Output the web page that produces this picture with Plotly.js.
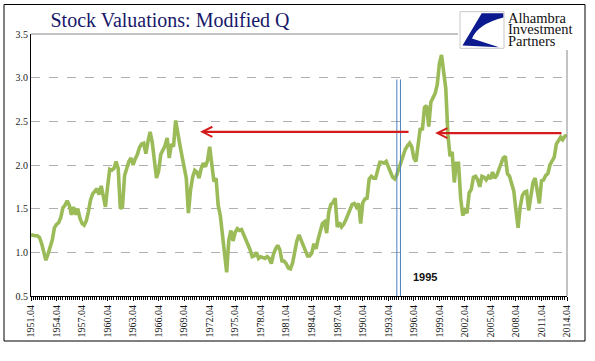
<!DOCTYPE html>
<html>
<head>
<meta charset="utf-8">
<script src="https://cdn.plot.ly/plotly-3.0.1.min.js"></script>
<style>html,body{margin:0;padding:0;background:#fff;}#chart{width:595px;height:361px;}</style>
</head>
<body>
<div id="chart"></div>
<script>
// Modified Q, quarterly, 1951.04 .. 2014.04
const modifiedQ = [
  1.20,1.19,1.19,1.19,1.17,1.10,1.01,0.91,0.98,1.06,1.14,1.28,
  1.32,1.34,1.40,1.51,1.54,1.59,1.54,1.43,1.52,1.43,1.50,1.39,
  1.33,1.31,1.36,1.47,1.60,1.67,1.70,1.73,1.66,1.76,1.64,1.52,
  1.75,1.95,1.94,1.96,2.04,1.96,1.50,1.52,1.88,1.96,2.04,2.08,
  2.00,2.07,2.12,2.20,2.24,2.25,2.13,2.27,2.38,2.26,2.05,1.85,
  1.93,2.12,2.17,2.22,2.31,2.08,2.24,2.21,2.51,2.35,2.23,2.10,
  1.95,1.85,1.45,1.71,1.86,1.94,1.92,1.85,1.96,2.02,1.98,2.05,
  2.21,2.00,1.81,1.85,1.54,1.42,1.20,0.95,0.77,1.14,1.25,1.13,
  1.23,1.27,1.25,1.26,1.20,1.15,1.10,1.03,0.95,0.96,1.00,0.93,
  0.95,0.94,0.93,0.95,0.93,0.87,0.98,1.04,1.08,1.03,0.90,0.90,
  0.87,0.82,0.81,0.88,1.02,1.13,1.20,1.14,1.07,1.01,0.96,0.96,
  0.99,1.10,1.04,1.15,1.24,1.33,1.35,1.22,1.46,1.55,1.57,1.62,
  1.29,1.34,1.29,1.32,1.37,1.43,1.51,1.55,1.56,1.52,1.56,1.33,
  1.57,1.61,1.62,1.84,1.87,1.85,1.85,1.96,2.03,2.03,2.02,2.04,
  1.99,1.92,1.86,1.84,1.89,1.97,2.04,2.13,2.18,2.22,2.25,2.21,
  2.08,2.04,2.28,2.42,2.40,2.66,2.68,2.44,2.72,2.78,2.82,2.92,
  3.16,3.26,3.05,2.88,2.35,2.10,2.15,1.80,2.02,2.02,1.62,1.42,
  1.48,1.45,1.68,1.72,1.86,1.87,1.83,1.75,1.87,1.86,1.83,1.87,
  1.84,1.92,1.85,1.88,1.95,2.02,2.08,2.10,1.90,1.87,1.79,1.70,
  1.48,1.28,1.52,1.65,1.69,1.70,1.48,1.65,1.80,1.85,1.70,1.56,
  1.82,1.83,1.88,1.90,2.00,2.04,2.09,2.24,2.28,2.32,2.29,2.33,
  2.34
];
const tickLabels = ["1951.04","1954.04","1957.04","1960.04","1963.04","1966.04","1969.04",
  "1972.04","1975.04","1978.04","1981.04","1984.04","1987.04","1990.04","1993.04",
  "1996.04","1999.04","2002.04","2005.04","2008.04","2011.04","2014.04"];
const logoLines = ["Alhambra", "Investment", "Partners"];
const quarters = [];
for (let i = 0; i < modifiedQ.length; i++) {
  const yr = 1951 + Math.floor((i + 3) / 4);
  const q = ((i + 3) % 4) + 1;
  quarters.push(yr + ".0" + q);
}
const xIdx = quarters.map((_, i) => i);
const tickVals = tickLabels.map(l => quarters.indexOf(l));
const markerQuarters = ["1994.04", "1995.02"];
const arrowLevels = [2.38, 2.365];

// pixel -> paper helpers for decorations
const PL = 31, PR = 567, PT = 34, PB = 296;
const px = x => (x - PL) / (PR - PL);
const py = y => (PB - y) / (PB - PT);

const logoPath = "M" + px(481.7) + "," + py(13.3) + " L" + px(503.3) + "," + py(13.3) +
  " L" + px(503.3) + "," + py(17.5) + " Q" + px(478) + "," + py(24) + " " + px(472) + "," + py(38.5) +
  " Q" + px(486) + "," + py(43) + " " + px(499) + "," + py(47.3) +
  " L" + px(462.5) + "," + py(45.5) + " Z";

const serif = "Liberation Serif, Times New Roman, serif";

const trace = {
  x: xIdx, y: modifiedQ, type: "scatter", mode: "lines",
  line: {color: "#9BBB59", width: 3.6}, hoverinfo: "skip"
};

const shapes = [
  {type: "rect", xref: "paper", yref: "paper", x0: px(4), x1: px(585), y0: py(341), y1: py(4.5),
   line: {color: "#000", width: 1}, fillcolor: "rgba(0,0,0,0)"},
  {type: "line", xref: "paper", yref: "paper", x0: 0, x1: px(458), y0: 1, y1: 1, line: {color: "#888", width: 1}},
  {type: "line", xref: "paper", yref: "paper", x0: 1, x1: 1, y0: 0, y1: py(50), line: {color: "#888", width: 1}},
  {type: "line", xref: "x", yref: "y", x0: quarters.indexOf(markerQuarters[0]), x1: quarters.indexOf(markerQuarters[0]), y0: 0.5, y1: 2.98,
   line: {color: "#4F81BD", width: 1}},
  {type: "line", xref: "x", yref: "y", x0: quarters.indexOf(markerQuarters[1]) - 0.3, x1: quarters.indexOf(markerQuarters[1]) - 0.3, y0: 0.5, y1: 2.98,
   line: {color: "#4F81BD", width: 1}},
  {type: "rect", xref: "paper", yref: "paper", x0: px(458), x1: px(584), y0: py(50), y1: py(7),
   line: {width: 0}, fillcolor: "#fff", layer: "above"},
  {type: "rect", xref: "paper", yref: "paper", x0: px(460), x1: px(504), y0: py(48.3), y1: py(11.7),
   line: {color: "#c8c8c8", width: 1}, fillcolor: "#fff", layer: "above"},
  {type: "path", xref: "paper", yref: "paper", path: logoPath, fillcolor: "#0B1A8E", line: {width: 0}, layer: "above"}
];

const logoY = [17.8, 29.4, 40.9];
const annotations = [
  {xref: "x", yref: "y", axref: "x", ayref: "y", x: 79.5, y: arrowLevels[0], ax: 178.2, ay: arrowLevels[0],
   text: "", showarrow: true, arrowhead: 5, arrowsize: 0.9, arrowwidth: 2.2, arrowcolor: "#D41C1C"},
  {xref: "x", yref: "y", axref: "x", ayref: "y", x: 190, y: arrowLevels[1], ax: 250.1, ay: arrowLevels[1],
   text: "", showarrow: true, arrowhead: 5, arrowsize: 0.9, arrowwidth: 2.2, arrowcolor: "#D41C1C"},
  {xref: "x", yref: "y", x: 185.2, y: 0.716, text: "<b>1995</b>", showarrow: false,
   font: {family: "Liberation Sans, Arial, sans-serif", size: 11, color: "#111"}}
].concat(logoLines.map((t, i) => ({
  xref: "paper", yref: "paper", x: px(507), y: py(logoY[i]), xanchor: "left", yanchor: "middle", text: t,
  showarrow: false, font: {family: serif, size: 14.5, color: "#111"}, borderpad: 0
})));

const layout = {
  width: 595, height: 361,
  margin: {l: PL, r: 595 - PR, t: PT, b: 361 - PB, pad: 0},
  paper_bgcolor: "#fff", plot_bgcolor: "#fff",
  showlegend: false,
  font: {family: serif, size: 10, color: "#222"},
  title: {text: "Stock Valuations: Modified Q", xref: "container", yref: "container",
          x: 170 / 595, xanchor: "center", y: 1 - 13 / 361, yanchor: "top",
          font: {family: serif, size: 20, color: "#17176A"}},
  xaxis: {
    range: [0, modifiedQ.length - 1], tickmode: "array", tickvals: tickVals, ticktext: tickLabels,
    tickangle: -90, tickfont: {family: serif, size: 10, color: "#111"},
    ticks: "outside", ticklen: 4, tickcolor: "#000", tickwidth: 1,
    minor: {dtick: 1, tick0: 0, ticks: "outside", ticklen: 3, tickcolor: "#000", tickwidth: 1, showgrid: false},
    showline: true, linecolor: "#000", linewidth: 1, showgrid: false, zeroline: false, fixedrange: true
  },
  yaxis: {
    range: [0.5, 3.5], dtick: 0.5, tick0: 0.5, tickformat: ".1f",
    tickfont: {family: serif, size: 10, color: "#222"},
    showgrid: true, gridcolor: "#b0b0b0", griddash: "dash", gridwidth: 1,
    showline: true, linecolor: "#000", linewidth: 1, ticks: "", zeroline: false, fixedrange: true
  },
  shapes: shapes,
  annotations: annotations
};

Plotly.newPlot("chart", [trace], layout, {displayModeBar: false, staticPlot: true});
</script>
</body>
</html>
